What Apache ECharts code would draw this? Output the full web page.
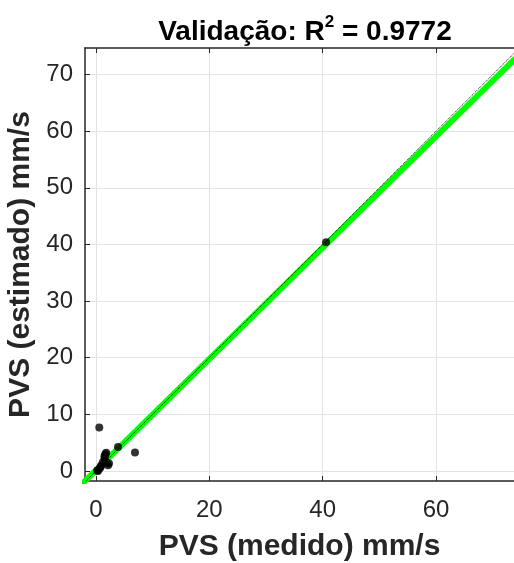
<!DOCTYPE html>
<html>
<head>
<meta charset="utf-8">
<script src="https://cdn.jsdelivr.net/npm/echarts@6/dist/echarts.min.js"></script>
<style>html,body{margin:0;padding:0;background:#fff;}#c{width:514px;height:563px;}</style>
</head>
<body>
<div id="c"></div>
<script>
// Data
var measured  = [0.35, 0.65, 0.94, 1.24, 1.53, 1.64, 2.12, 0.58, 3.88, 6.88, 40.6, 1.8, 1.5, 2.3, 0.2, 0.8, 1.9];
var estimated = [0.00, 0.42, 1.00, 1.59, 2.19, 2.94, 1.00, 7.66, 4.25, 3.25, 40.4, 3.2, 2.6, 1.3, 0.1, 0.7, 1.5];
var fitX = [-5, 80];
var fitY = [-4.78, 78.74];
var idX = [-5, 80];
var idY = [-5, 80];
var xTicks = [0, 20, 40, 60];
var yTicks = [0, 10, 20, 30, 40, 50, 60, 70];
var titleMain = 'Validação: R';
var titleSup = '2';
var titleEnd = ' = 0.9772';
var xName = 'PVS (medido) mm/s';
var yName = 'PVS (estimado) mm/s';

var FONT = '"Liberation Sans", Arial, sans-serif';
var DARK = '#262626';
var GRID = '#e3e3e3';

function pairs(a, b) { return a.map(function (v, i) { return [v, b[i]]; }); }

var chart = echarts.init(document.getElementById('c'), null, {renderer: 'canvas'});
var axisCommon = {
  type: 'value',
  axisLine: {show: true, onZero: false, lineStyle: {color: DARK, width: 1.5}},
  axisTick: {show: true, inside: true, length: 5, lineStyle: {color: DARK, width: 1}},
  splitLine: {show: true, lineStyle: {color: GRID, width: 1}},
  axisLabel: {color: DARK, fontFamily: FONT, fontSize: 24}
};
chart.setOption({
  animation: false,
  backgroundColor: '#fff',
  title: {
    text: '{a|' + titleMain + '}{s|' + titleSup + '}{a|' + titleEnd + '}',
    left: 300, top: 9, textAlign: 'center',
    textStyle: {
      rich: {
        a: {fontFamily: FONT, fontWeight: 'bold', fontSize: 28, color: '#000', lineHeight: 32, verticalAlign: 'bottom'},
        s: {fontFamily: FONT, fontWeight: 'bold', fontSize: 17, color: '#000', lineHeight: 32, verticalAlign: 'top'}
      }
    }
  },
  grid: {left: 85, top: 48, right: 0, bottom: 82, containLabel: false, outerBoundsMode: 'none'},
  xAxis: [
    Object.assign({}, axisCommon, {
      min: -1.94, max: 73.76, position: 'bottom',
      axisTick: Object.assign({}, axisCommon.axisTick, {customValues: xTicks}),
      axisLabel: Object.assign({}, axisCommon.axisLabel, {customValues: xTicks, margin: 17}),
      name: xName, nameLocation: 'middle', nameGap: 51,
      nameTextStyle: {fontFamily: FONT, fontWeight: 'bold', fontSize: 30, color: DARK}
    }),
    Object.assign({}, axisCommon, {
      min: -1.94, max: 73.76, position: 'top',
      axisTick: Object.assign({}, axisCommon.axisTick, {customValues: xTicks}),
      axisLabel: {show: false},
      splitLine: {show: false}
    })
  ],
  yAxis: [
    Object.assign({}, axisCommon, {
      min: -1.77, max: 74.7, position: 'left',
      axisTick: Object.assign({}, axisCommon.axisTick, {customValues: yTicks}),
      axisLabel: Object.assign({}, axisCommon.axisLabel, {customValues: yTicks, margin: 12}),
      name: yName, nameLocation: 'middle', nameGap: 42,
      nameTextStyle: {fontFamily: FONT, fontWeight: 'bold', fontSize: 30, color: DARK}
    })
  ],
  series: [
    {
      type: 'line', data: pairs(fitX, fitY), symbol: 'none', silent: true, clip: true,
      lineStyle: {color: '#00ff00', width: 6}, z: 2
    },
    {
      type: 'line', data: pairs(idX, idY), symbol: 'none', silent: true, clip: true,
      lineStyle: {color: '#000', width: 1, type: 'dotted'}, z: 3
    },
    {
      type: 'scatter', data: pairs(measured, estimated), symbol: 'circle', symbolSize: 8,
      itemStyle: {color: '#000'}, z: 4
    }
  ]
});
</script>
</body>
</html>
